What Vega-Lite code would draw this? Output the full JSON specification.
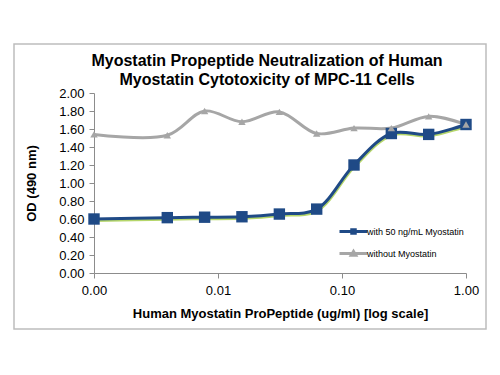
{
  "$schema": "https://vega.github.io/schema/vega-lite/v6.json",
  "width": 472,
  "height": 285,
  "autosize": "none",
  "padding": {"left": 14, "top": 44, "right": 14, "bottom": 46},
  "background": "white",
  "view": {"stroke": "#bdbdbd", "strokeWidth": 1.5, "fill": "white"},
  "title": {
    "text": ["Myostatin Propeptide Neutralization of Human", "Myostatin Cytotoxicity of MPC-11 Cells"],
    "font": "Liberation Sans",
    "fontSize": 16,
    "fontWeight": "bold",
    "color": "#000000",
    "anchor": "middle",
    "frame": "group",
    "baseline": "top",
    "offset": 0,
    "dx": 17,
    "dy": 44,
    "lineHeight": 19
  },
  "data": {
    "values": [
      {"conc": 0.001, "od": 0.60, "series": "with 50 ng/mL Myostatin"},
      {"conc": 0.0039, "od": 0.615, "series": "with 50 ng/mL Myostatin"},
      {"conc": 0.0078, "od": 0.62, "series": "with 50 ng/mL Myostatin"},
      {"conc": 0.0156, "od": 0.625, "series": "with 50 ng/mL Myostatin"},
      {"conc": 0.03125, "od": 0.655, "series": "with 50 ng/mL Myostatin"},
      {"conc": 0.0625, "od": 0.71, "series": "with 50 ng/mL Myostatin"},
      {"conc": 0.125, "od": 1.20, "series": "with 50 ng/mL Myostatin"},
      {"conc": 0.25, "od": 1.55, "series": "with 50 ng/mL Myostatin"},
      {"conc": 0.5, "od": 1.54, "series": "with 50 ng/mL Myostatin"},
      {"conc": 1.0, "od": 1.65, "series": "with 50 ng/mL Myostatin"},
      {"conc": 0.001, "od": 1.54, "series": "without Myostatin"},
      {"conc": 0.0039, "od": 1.53, "series": "without Myostatin"},
      {"conc": 0.0078, "od": 1.80, "series": "without Myostatin"},
      {"conc": 0.0156, "od": 1.68, "series": "without Myostatin"},
      {"conc": 0.03125, "od": 1.79, "series": "without Myostatin"},
      {"conc": 0.0625, "od": 1.55, "series": "without Myostatin"},
      {"conc": 0.125, "od": 1.61, "series": "without Myostatin"},
      {"conc": 0.25, "od": 1.61, "series": "without Myostatin"},
      {"conc": 0.5, "od": 1.74, "series": "without Myostatin"},
      {"conc": 1.0, "od": 1.65, "series": "without Myostatin"}
    ]
  },
  "encoding": {
    "x": {
      "field": "conc",
      "type": "quantitative",
      "scale": {"type": "log", "domain": [0.001, 1], "range": [80, 452], "nice": false},
      "axis": {
        "orient": "bottom",
        "offset": -56,
        "values": [0.001, 0.01, 0.1, 1],
        "format": ".2f",
        "title": "Human Myostatin ProPeptide (ug/ml) [log scale]",
        "grid": false,
        "tickSize": 5,
        "labelPadding": 6,
        "labelFlush": false,
        "labelOverlap": false,
        "titlePadding": 10
      }
    },
    "y": {
      "field": "od",
      "type": "quantitative",
      "scale": {"domain": [0, 2], "range": [229, 49], "nice": false, "zero": false},
      "axis": {
        "orient": "left",
        "offset": -80,
        "values": [0, 0.2, 0.4, 0.6, 0.8, 1.0, 1.2, 1.4, 1.6, 1.8, 2.0],
        "format": ".2f",
        "title": "OD (490 nm)",
        "grid": false,
        "tickSize": 5,
        "labelPadding": 5,
        "labelFlush": false,
        "titlePadding": 20
      }
    }
  },
  "layer": [
    {
      "transform": [{"filter": "datum.series === 'with 50 ng/mL Myostatin'"}],
      "mark": {"type": "line", "interpolate": "catmull-rom", "color": "#b5d66a", "strokeWidth": 3, "yOffset": 1.5, "xOffset": 0.5}
    },
    {
      "mark": {"type": "line", "interpolate": "catmull-rom", "strokeWidth": 3},
      "encoding": {
        "color": {
          "field": "series",
          "type": "nominal",
          "scale": {"domain": ["with 50 ng/mL Myostatin", "without Myostatin"], "range": ["#1f4a86", "#a6a6a6"]},
          "legend": {
            "orient": "none",
            "legendX": 333,
            "legendY": 181,
            "title": null,
            "labelFont": "Liberation Sans",
            "labelFontSize": 9,
            "labelColor": "#000000",
            "symbolSize": 100,
            "symbolStrokeWidth": 3,
            "rowPadding": 5,
            "labelOffset": 7,
            "encode": {
              "symbols": {
                "update": {
                  "shape": {"signal": "datum.value === 'without Myostatin' ? 'M-2.8,0H2.8M-0.45,0.35L0,-0.4L0.45,0.35Z' : 'M-2.8,0H2.8M-0.35,-0.35H0.35V0.35H-0.35Z'"},
                  "fill": {"scale": "color", "field": "value"},
                  "stroke": {"scale": "color", "field": "value"},
                  "strokeWidth": {"value": 3},
                  "opacity": {"value": 1}
                }
              }
            }
          }
        }
      }
    },
    {
      "transform": [{"filter": "datum.series === 'with 50 ng/mL Myostatin'"}],
      "mark": {"type": "point", "filled": true, "opacity": 1, "shape": "square", "size": 130, "color": "#1f4a86"}
    },
    {
      "transform": [{"filter": "datum.series === 'without Myostatin'"}],
      "mark": {"type": "point", "filled": true, "opacity": 1, "shape": "triangle-up", "size": 55, "color": "#a6a6a6"}
    }
  ],
  "config": {
    "axis": {
      "labelFont": "Liberation Sans",
      "labelFontSize": 13,
      "labelColor": "#000000",
      "titleFont": "Liberation Sans",
      "titleFontSize": 13,
      "titleFontWeight": "bold",
      "titleColor": "#000000",
      "domainColor": "#8c8c8c",
      "tickColor": "#8c8c8c"
    }
  }
}
